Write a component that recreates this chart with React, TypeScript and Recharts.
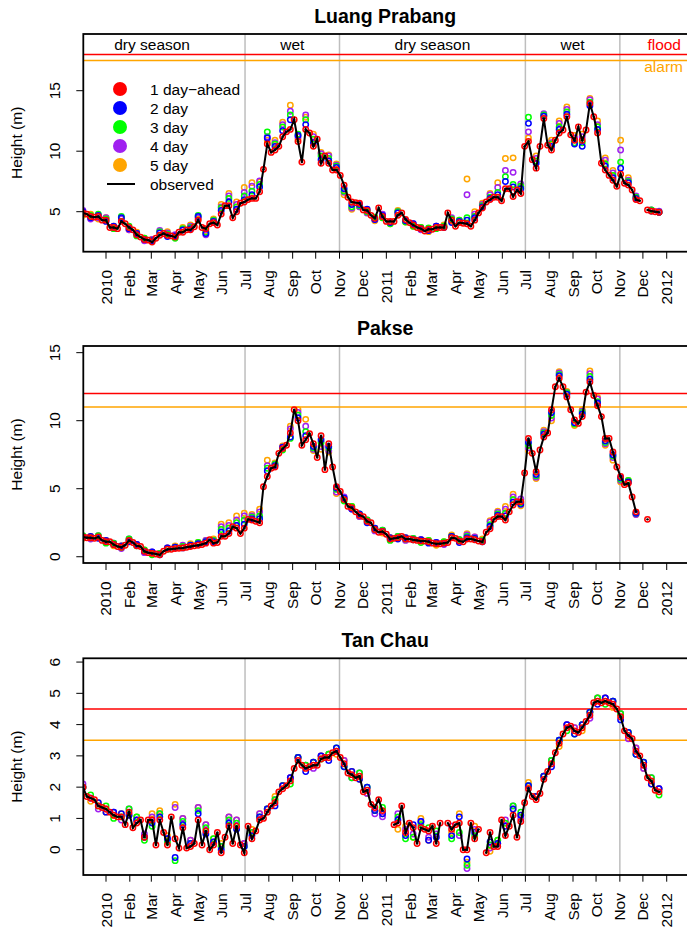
import { ComposedChart, Scatter, Line, XAxis, YAxis, ReferenceLine } from "recharts";

// days counted from 1 Jan 2010; observations read every 5 days, forecasts every 10
const START_DAY = -30;
const OBS_STEP = 5;
const FC_STEP = 10;

const TICK_DAYS = [0, 31, 59, 90, 120, 151, 181, 212, 243, 273, 304, 334, 365, 396, 424, 455, 485, 516, 546, 577, 608, 638, 669, 699, 730];
const TICK_LABELS = ["2010", "Feb", "Mar", "Apr", "May", "Jun", "Jul", "Aug", "Sep", "Oct", "Nov", "Dec", "2011", "Feb", "Mar", "Apr", "May", "Jun", "Jul", "Aug", "Sep", "Oct", "Nov", "Dec", "2012"];
const SEASON_DAYS = [181, 304, 546, 669];
const SEASON_LABELS = ["dry season", "wet", "dry season", "wet"];
const SEASON_MIDS = [60, 242.5, 425, 607.5];

const HORIZONS = ["1 day\u2212ahead", "2 day", "3 day", "4 day", "5 day"];
const COLORS = ["#ff0000", "#0000ff", "#00ff00", "#a020f0", "#ffa500"];

// Luang Prabang observed height (m)
const LP_OBS = [
  4.9, 4.8, 4.6, 4.55, 4.6, 4.3, 4.3, 3.7, 3.7, 3.6,
  4.2, 4.0, 3.7, 3.5, 3.1, 2.9, 2.7, 2.65, 2.5, 2.8,
  3.05, 3.2, 3.05, 3.0, 2.9, 3.3, 3.3, 3.5, 3.5, 3.75,
  4.3, 3.7, 3.6, 4.0, 4.1, 3.9, 4.8, 5.5, 5.5, 4.5,
  5.0, 5.7, 5.8, 6.0, 6.1, 6.1, 6.65, 8.5, 10.6, 9.9,
  10.1, 10.4, 11.2, 11.6, 11.8, 12.6, 10.8, 9.1, 11.8, 11.5,
  10.4, 11.0, 9.0, 9.6, 9.0, 8.45, 8.45, 8.0, 7.2, 6.2,
  5.8, 5.75, 5.7, 5.15, 5.1, 4.7, 4.45, 5.3, 4.6, 4.2,
  4.2, 4.2, 4.7, 4.9, 4.35, 4.1, 3.9, 3.7, 3.6, 3.4,
  3.55, 3.55, 3.7, 3.7, 3.7, 4.9, 4.3, 3.8, 4.1, 4.05,
  4.0, 3.8, 4.3, 4.9, 5.3, 5.8, 6.0, 6.2, 6.2, 5.9,
  6.9, 6.9, 6.25, 6.8, 6.5, 10.4, 10.8, 9.3, 8.6, 10.4,
  12.7, 10.5, 10.1, 10.9, 11.5, 11.75, 12.85, 11.35, 10.9, 12.0,
  10.9, 11.75, 13.95, 12.85, 11.5, 9.0, 8.45, 8.0, 7.6, 7.1,
  8.1, 7.35, 7.2, 6.8, 6.0, 5.9, null, 5.15, 5.05, 5.0,
  4.95,
];
// forecast minus observed, tenths of a metre
const LP_ERR2 = [
  1, -1, 1, -1, 1, 3, -1, 1, 0, 1, 2, -1, 1, 2, 1, 3, -4, 1, 3, 3,
  2, 2, 3, 4, 5, 3, 5, 8, 5, 4, 3, 3, 2, 2, -3, -2, -1, 1, -1, 1,
  -1, 2, -1, 1, 0, -1, 1, 0, -2, 1, 3, 2, 1, 1, 2, 6, 8, 4, 15, 4,
  2, 3, 3, 2, -3, -5, -2, 3, 3, 2, 5, 2, 1, 0, 0, 0,
];
const LP_ERR3 = [
  -1, 1, 2, 1, -1, 4, 1, -1, 1, 1, 3, 1, -1, 3, 2, 4, -3, 2, 5, 6,
  4, 5, 6, 6, 10, 5, 8, 12, 6, 8, 6, 6, 4, 3, -5, -4, -2, -1, 1, -1,
  -2, 3, -2, -1, 1, 1, -1, 1, 1, 2, 5, 3, 2, 2, 4, 10, 10, 6, 20, 6,
  3, 5, 5, 4, -2, -2, 1, 5, 5, 4, 10, 3, 2, 0, 1, 0,
];
const LP_ERR4 = [
  2, -2, -1, 2, -1, 2, -2, 1, -1, 2, 4, 2, 2, 2, 3, 2, -5, 2, 6, 8,
  6, 8, 10, 9, 6, 6, 10, 15, 4, 12, 8, 8, 6, 4, -6, -5, -3, -2, -1, 2,
  -1, 3, -1, 1, -1, -1, 1, 1, 2, 1, 24, 5, 3, 4, 8, 15, 20, 8, 8, 8,
  4, 6, 8, 6, 2, 3, 3, 7, 8, 6, 20, 4, 3, 0, 1, 1,
];
const LP_ERR5 = [
  -2, 2, -2, 2, 1, 3, -2, 2, 1, 2, 3, 3, 1, 4, 4, 1, -2, 3, 8, 10,
  8, 12, 13, 8, 3, 8, 12, 20, 2, 10, 10, 9, 7, 5, -8, -6, -3, -2, -2, -1,
  -2, 4, -2, -1, 1, -2, 1, 2, -1, 2, 37, 7, 4, 5, 12, 25, 32, 5, 3, 10,
  2, 8, 10, 8, 4, 5, 4, 10, 10, 8, 28, 6, 2, 0, 0, 0,
];

// Pakse
const PK_OBS = [
  1.45, 1.4, 1.4, 1.35, 1.45, 1.2, 1.1, 1.1, 0.9, 0.75,
  0.7, 0.85, 1.2, 1.05, 0.8, 0.75, 0.4, 0.3, 0.25, 0.2,
  0.15, 0.4, 0.55, 0.55, 0.6, 0.62, 0.65, 0.7, 0.75, 0.8,
  0.85, 0.9, 1.0, 1.25, 1.0, 1.05, 1.5, 1.5, 1.7, 2.2,
  2.1, 1.7, 2.1, 2.75, 2.7, 2.6, 2.5, 5.15, 5.9, 6.5,
  6.6, 7.6, 7.95, 8.2, 9.1, 10.8, 10.0, 8.2, 8.6, 9.05,
  8.3, 7.3, 8.9, 6.4, 8.3, 6.6, 5.15, 4.8, 4.2, 3.7,
  3.6, 3.3, 3.05, 2.95, 2.6, 2.5, 2.0, 1.8, 1.85, 1.65,
  1.3, 1.35, 1.4, 1.5, 1.3, 1.3, 1.25, 1.2, 1.15, 1.15,
  1.1, 1.0, 0.95, 0.95, 1.0, 1.05, 1.4, 1.35, 1.15, 1.1,
  1.3, 1.3, 1.25, 1.15, 1.1, 1.8, 2.05, 2.75, 2.95, 2.95,
  2.7, 3.3, 3.8, 4.05, 4.05, 6.15, 8.7, 7.6, 6.25, 7.85,
  8.8, 9.1, 10.8, 12.5, 13.1, 12.5, 11.75, 10.8, 10.05, 9.8,
  10.3, 12.1, 12.85, 11.85, 11.1, 10.3, 8.7, 8.7, 7.7, 6.6,
  5.9, 5.3, 5.4, 4.4, 3.3, null, null, 2.75, null, null,
  null,
];
const PK_ERR2 = [
  0, 1, -1, 1, 0, 1, -1, 1, 0, 1, 0, 1, 1, 0, 1, 1, 1, 1, 3, 2,
  2, 3, 1, 3, 4, 1, 1, -3, 2, 3, -2, -3, -2, -1, 1, -1, 1, -1, 1, 0,
  1, -1, 1, 0, 1, -1, 1, 0, 1, -1, 1, 1, 0, 2, 1, 3, 2, -2, -3, -2,
  2, -2, 2, 2, -2, 2, 2, 2, -2, -2, -1, 1, -1, 0, 0, 0,
];
const PK_ERR3 = [
  1, 0, 1, -1, 1, 0, 1, 0, 1, -1, 1, 0, 1, 1, 1, 2, 1, 2, 5, 4,
  4, 6, 2, 5, 6, 2, -1, -4, 4, 6, -3, -5, -3, -2, -1, 1, 1, 1, 0, 1,
  -1, 1, 0, 1, -1, 1, 0, 1, 1, 1, 2, 1, 1, 3, 2, 5, 4, -1, -5, -3,
  3, -4, 3, 3, -3, 3, 4, 3, -3, -3, -2, 2, -1, 0, 0, 0,
];
const PK_ERR4 = [
  0, -1, 1, 0, 1, -1, 1, 1, -1, 1, 1, 1, 1, 2, 1, 1, 2, 2, 7, 6,
  6, 9, 3, 8, 8, 2, 1, 3, 6, 10, -4, -8, -5, -4, 2, -1, -1, 1, -1, 1,
  0, 1, -1, 1, 1, 0, 1, -1, 1, 1, 3, 2, 1, 5, 3, 8, 6, 2, -7, -4,
  4, -6, 4, 3, -2, 4, 6, 5, -4, -4, -3, 1, -2, 0, 0, 0,
];
const PK_ERR5 = [
  -1, 1, 0, 1, -1, 1, 0, 1, 1, 0, 1, 1, 2, 1, 2, 2, 2, 3, 9, 8,
  9, 11, 4, 10, 12, 3, 2, 5, 8, 15, -5, -10, -6, -5, 1, 1, -1, 0, 1, -1,
  1, 1, 1, 0, 1, 1, -1, 1, 2, 1, 4, 2, 2, 6, 4, 10, 8, -3, -9, -5,
  5, -8, 5, 4, -4, 5, 8, 6, -5, -6, -4, 2, -2, 0, 0, 0,
];

// Tan Chau
const TC_OBS = [
  2.0, 1.7, 1.65, 1.6, 1.4, 1.35, 1.3, 1.2, 1.1, 1.05,
  1.05, 0.8, 1.2, 0.7, 0.85, 0.95, 0.4, 0.95, 0.95, 0.15,
  0.95, 0.55, 0.15, 1.05, 0.35, 0.05, 0.7, 0.05, 0.1, 0.2,
  0.95, 0.15, 0.6, 0.0, 0.15, 0.55, -0.1, 0.4, 0.75, 0.2,
  0.75, 0.15, -0.1, 0.75, 0.35, 0.6, 0.95, 1.0, 1.2, 1.4,
  1.5, 1.85, 1.95, 2.05, 2.2, 2.6, 2.85, 2.7, 2.6, 2.65,
  2.7, 2.7, 2.9, 2.95, 2.95, 3.1, 3.15, 2.95, 2.75, 2.45,
  2.4, 2.3, 2.35, 1.85, 1.9, 1.45, 1.35, 1.6, 1.25, null,
  null, 0.8, 0.85, 1.4, 0.55, 0.85, 0.7, 0.2, 0.7, 0.65,
  0.6, 0.75, 0.2, 0.85, null, 0.85, 0.65, 0.8, 0.85, 0.0,
  0.0, 0.85, 0.35, 0.65, null, -0.1, 0.55, 0.1, 0.1, 0.95,
  0.45, 0.75, 1.1, 0.4, 0.9, 1.5, 1.95, 1.7, 1.6, 1.8,
  2.25, 2.5, 2.75, 3.1, 3.4, 3.7, 3.9, 3.95, 3.8, 3.75,
  3.9, 4.1, 4.3, 4.7, 4.75, 4.7, 4.75, 4.7, 4.65, 4.5,
  4.25, 3.8, 3.65, 3.55, 3.15, 3.0, 2.7, 2.3, 2.2, 1.9,
  1.85,
];
const TC_ERR2 = [
  0, 0, 1, -1, 1, 1, -1, 1, 0, -1, 1, 2, -6, 1, 1, 2, -1, 1, 1, 1,
  -1, 2, 1, 1, 1, -1, 1, 1, 1, -1, 1, 1, -1, 1, -1, 1, -1, 1, -1, -1,
  0, 1, -1, 1, 2, -3, 2, 0, -2, 2, -3, 2, 0, -3, 1, 3, 2, 2, 1, 1,
  1, -1, 1, 1, -1, 1, 1, -1, 1, 1, -1, 1, -1, 1, -1, 1,
];
const TC_ERR3 = [
  0, 1, 0, 1, -1, 0, 1, 2, -1, -2, 2, 1, -7, 2, 1, 3, 1, 2, 2, 2,
  1, 2, 2, 1, 1, 1, 1, -1, 1, 1, 1, 0, 1, 1, -1, -1, 1, 1, -1, 1,
  0, 2, -2, -3, 1, 1, 4, 0, -3, -3, -5, 1, 0, -4, 2, 4, 3, 3, 1, 1,
  1, 1, 1, -1, -1, 1, 1, 1, -1, 1, 1, 1, -1, 1, 1, -1,
];
const TC_ERR4 = [
  1, 0, -1, 0, 1, -1, 1, 1, 1, 1, 2, 2, 10, 3, 2, 4, 2, 1, 2, 3,
  2, 3, 2, 2, 1, 1, 1, 1, 1, 1, -1, 1, 1, 0, 1, -1, 1, -1, -2, -2,
  0, 3, 1, -2, 2, -2, 3, 0, 1, -4, -6, 3, 0, -5, 1, 5, 3, 1, 1, 1,
  1, 1, 1, 1, 1, 1, -1, 1, 1, 1, 1, -1, 1, -1, 1, 1,
];
const TC_ERR5 = [
  0, -1, 1, -1, 0, 1, -1, 2, 0, 2, 3, 3, 11, 3, 2, 4, 2, 2, 3, 3,
  2, 3, 3, 2, 1, 2, 1, 1, 1, 1, 1, 1, 1, -1, 1, 1, -1, -1, -1, -1,
  0, -2, 2, -3, 3, -3, 2, 0, -1, 3, -4, 4, 0, -6, 2, 4, 2, 2, 2, 1,
  1, 1, -1, 1, 1, -1, 1, 1, 1, -1, 1, 1, 1, -1, -1, 1,
];

const FONT = "'Liberation Sans', Arial, Helvetica, sans-serif";
const PX_2010 = 106;
const PX_PER_DAY = 0.7681;
const PLOT_LEFT = 83.3;
const PLOT_RIGHT = 687;
const X_DOMAIN = [(PLOT_LEFT - PX_2010) / PX_PER_DAY, (PLOT_RIGHT - PX_2010) / PX_PER_DAY];
const xOf = (day: number) => PX_2010 + day * PX_PER_DAY;

const PANELS = [
  { title: "Luang Prabang", obs: LP_OBS, errs: [LP_ERR2, LP_ERR3, LP_ERR4, LP_ERR5], flood: 18, alarm: 17.5, yDomain: [1.694, 19.686], yTicks: [5, 10, 15], top: 34, plotH: 217.7 },
  { title: "Pakse", obs: PK_OBS, errs: [PK_ERR2, PK_ERR3, PK_ERR4, PK_ERR5], flood: 12, alarm: 11, yDomain: [-0.46, 15.49], yTicks: [0, 5, 10, 15], top: 346, plotH: 217 },
  { title: "Tan Chau", obs: TC_OBS, errs: [TC_ERR2, TC_ERR3, TC_ERR4, TC_ERR5], flood: 4.5, alarm: 3.5, yDomain: [-0.8, 6.13], yTicks: [0, 1, 2, 3, 4, 5, 6], top: 658.3, plotH: 216.7 },
];

const CHART_H = 310;
const MARGIN_TOP = 34;
const X_AXIS_H = 50;
const Y_AXIS_W = 60;

const obsPoints = (obs: (number | null)[]) =>
  obs.map((v, i) => ({ x: START_DAY + i * OBS_STEP, y: v }));

const fcPoints = (obs: (number | null)[], err: number[]) =>
  err
    .map((e, j) => {
      const v = obs[j * (FC_STEP / OBS_STEP)];
      return v == null ? null : { x: START_DAY + j * FC_STEP, y: v + e / 10 };
    })
    .filter((p) => p !== null) as { x: number; y: number }[];

const XTick = (props: any) => {
  const { x, y, payload } = props;
  const label = TICK_LABELS[TICK_DAYS.indexOf(payload.value)];
  const bx = x + 5.5;
  const by = y + 11.3;
  return (
    <text x={bx} y={by} transform={`rotate(-90 ${bx} ${by})`} textAnchor="end" fontSize={15.5} fontFamily={FONT} fill="#000">
      {label}
    </text>
  );
};

const YTick = (props: any) => {
  const { x, y, payload } = props;
  const bx = x - 16.3;
  return (
    <text x={bx} y={y} transform={`rotate(-90 ${bx} ${y})`} textAnchor="middle" fontSize={15.5} fontFamily={FONT} fill="#000">
      {payload.value}
    </text>
  );
};

const circleShape = (color: string) => (p: any) =>
  p.cx == null ? <g /> : <circle cx={p.cx} cy={p.cy} r={2.7} fill="none" stroke={color} strokeWidth={1.5} />;

function Panel({ panel }: { panel: (typeof PANELS)[number] }) {
  const obs = obsPoints(panel.obs);
  const red = obs.filter((p) => p.y != null);
  const bottom = CHART_H - MARGIN_TOP - panel.plotH - X_AXIS_H;
  // drawn back to front: 5 day first, 1 day-ahead last
  const order = [3, 2, 1, 0];
  return (
    <div style={{ position: "absolute", left: 0, top: panel.top - MARGIN_TOP }}>
      <ComposedChart
        width={687}
        height={CHART_H}
        margin={{ top: MARGIN_TOP, right: 687 - PLOT_RIGHT, bottom, left: PLOT_LEFT - Y_AXIS_W }}
      >
        <XAxis
          type="number"
          dataKey="x"
          domain={X_DOMAIN}
          allowDataOverflow
          ticks={TICK_DAYS}
          interval={0}
          height={X_AXIS_H}
          tickSize={7}
          tickMargin={0}
          axisLine={false}
          tickLine={{ stroke: "#000", strokeWidth: 1 }}
          tick={(p: any) => <XTick {...p} />}
        />
        <YAxis
          type="number"
          dataKey="y"
          domain={panel.yDomain}
          allowDataOverflow
          ticks={panel.yTicks}
          interval={0}
          width={Y_AXIS_W}
          tickSize={7}
          tickMargin={0}
          axisLine={false}
          tickLine={{ stroke: "#000", strokeWidth: 1 }}
          tick={(p: any) => <YTick {...p} />}
        />
        {SEASON_DAYS.map((d) => (
          <ReferenceLine key={d} x={d} stroke="#bebebe" strokeWidth={1.5} zIndex={-50} />
        ))}
        <ReferenceLine y={panel.flood} stroke="#ff0000" strokeWidth={1.5} zIndex={-40} />
        <ReferenceLine y={panel.alarm} stroke="#ffa500" strokeWidth={1.5} zIndex={-40} />
        {order.map((k) => (
          <Scatter
            key={k}
            name={HORIZONS[k + 1]}
            data={fcPoints(panel.obs, panel.errs[k])}
            dataKey="y"
            shape={circleShape(COLORS[k + 1])}
            isAnimationActive={false}
          />
        ))}
        <Scatter name={HORIZONS[0]} data={red} dataKey="y" shape={circleShape(COLORS[0])} isAnimationActive={false} />
        <Line
          data={obs}
          dataKey="y"
          type="linear"
          stroke="#000"
          strokeWidth={2}
          dot={{ r: 1.2, fill: "#000", stroke: "#000", strokeWidth: 0 }}
          activeDot={false}
          connectNulls={false}
          isAnimationActive={false}
          zIndex={700}
        />
      </ComposedChart>
    </div>
  );
}

export default function App() {
  return (
    <div style={{ position: "absolute", left: 0, top: 0, width: 687, height: 932, overflow: "hidden", background: "#fff" }}>
      {PANELS.map((p) => (
        <Panel key={p.title} panel={p} />
      ))}
      <svg width={687} height={932} style={{ position: "absolute", left: 0, top: 0, pointerEvents: "none" }} fontFamily={FONT}>
        {PANELS.map((p) => {
          const cy = p.top + p.plotH / 2;
          return (
            <g key={p.title}>
              <rect x={PLOT_LEFT} y={p.top} width={PLOT_RIGHT - PLOT_LEFT + 2} height={p.plotH} fill="none" stroke="#000" strokeWidth={1.8} />
              <text x={(PLOT_LEFT + PLOT_RIGHT) / 2} y={p.top - 11} textAnchor="middle" fontSize={19.5} fontWeight="bold" fill="#000">
                {p.title}
              </text>
              <text x={22} y={cy} transform={`rotate(-90 22 ${cy})`} textAnchor="middle" fontSize={15.5} fill="#000">
                Height (m)
              </text>
            </g>
          );
        })}
        {SEASON_LABELS.map((s, i) => (
          <text key={i} x={xOf(SEASON_MIDS[i])} y={50} textAnchor="middle" fontSize={15.5} fill="#000">
            {s}
          </text>
        ))}
        <text x={681} y={50} textAnchor="end" fontSize={15.5} fill="#ff0000">flood</text>
        <text x={683} y={72} textAnchor="end" fontSize={15.5} fill="#ffa500">alarm</text>
        {HORIZONS.map((h, i) => (
          <g key={h}>
            <circle cx={120} cy={89 + i * 19} r={7} fill={COLORS[i]} />
            <text x={150} y={94.5 + i * 19} fontSize={15.5} fill="#000">{h}</text>
          </g>
        ))}
        <line x1={107} x2={135} y1={184} y2={184} stroke="#000" strokeWidth={2} />
        <text x={150} y={189.5} fontSize={15.5} fill="#000">observed</text>
      </svg>
    </div>
  );
}
